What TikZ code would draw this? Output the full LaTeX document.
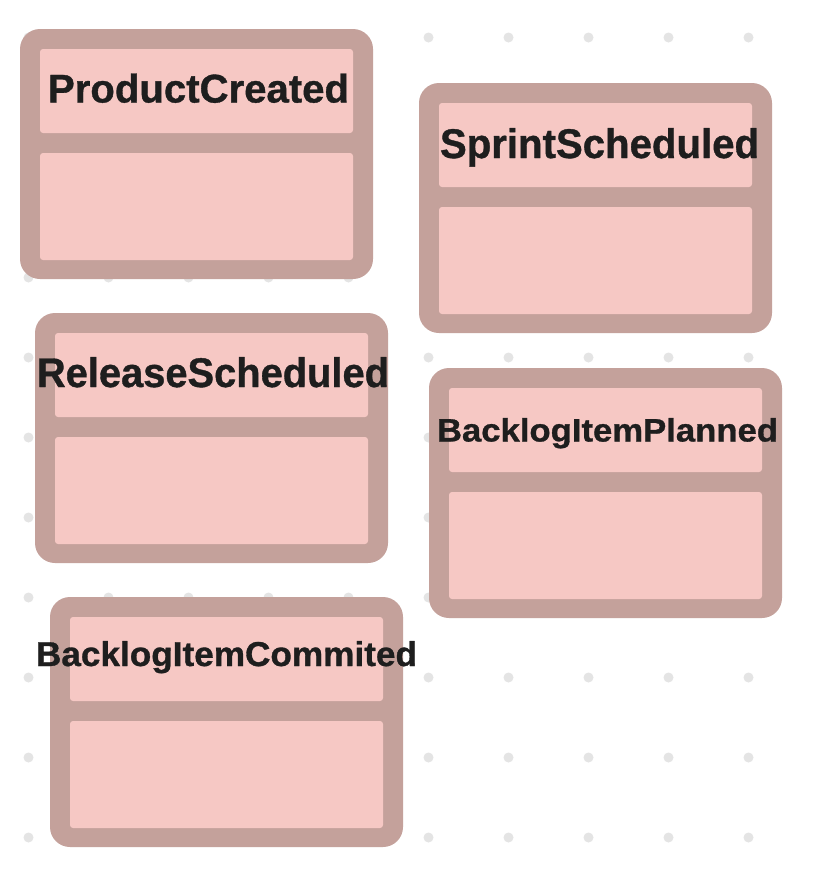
\documentclass[tikz,border=0pt]{standalone}
\usepackage{fontspec}
\setmainfont{Liberation Sans}
\newfontfamily\evfont[FakeBold=0.9]{Liberation Sans Bold}
\usepackage{graphicx}
\definecolor{evborder}{HTML}{C4A19B}
\definecolor{evfill}{HTML}{F6C8C4}
\definecolor{evtext}{HTML}{1E1E1E}
\definecolor{griddot}{HTML}{E4E4E4}
\tikzset{
  outerbox/.style={fill=evborder, rounded corners=20pt},
  innerbox/.style={fill=evfill, rounded corners=3pt},
  evlabel/.style={anchor=base, inner sep=0pt, text=evtext, font=\evfont},
  griddotstyle/.style={fill=griddot},
}
% name, X, Y, text centre x, baseline y, width, height, text
\newcommand{\evcard}[8]{%
  \path[outerbox] (#2,#3) rectangle ++(353,250);
  \path[innerbox] (#2+20,#3+20) rectangle ++(313,84);
  \path[innerbox] (#2+20,#3+124) rectangle ++(313,107);
  \node[evlabel] (#1) at (#4,#5) {\resizebox{#6pt}{#7pt}{#8}};
}
\begin{document}
\begin{tikzpicture}[x=1pt,y=-1pt]
  \useasboundingbox (0,0) rectangle (812,876);
  \fill[white] (0,0) rectangle (812,876);
  \foreach \i in {0,...,9}{
    \foreach \j in {0,...,10}{
      \fill[griddotstyle] (28.5+80*\i,37.5+80*\j) circle (5);
    }
  }
  \evcard{pc}{20}{29}{198.5}{102.5}{301}{29}{ProductCreated}
  \evcard{ss}{419}{83}{599.5}{158}{319}{30}{SprintScheduled}
  \evcard{rs}{35}{313}{213}{387}{352}{30}{ReleaseScheduled}
  \evcard{bp}{429}{368}{607.5}{441.5}{341}{23.5}{BacklogItemPlanned}
  \evcard{bc}{50}{597}{226.5}{666}{381}{25}{BacklogItemCommited}
\end{tikzpicture}
\end{document}
